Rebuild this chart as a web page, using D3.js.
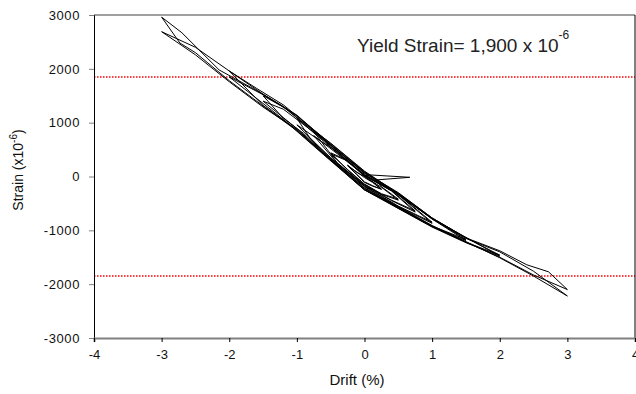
<!DOCTYPE html>
<html>
<head>
<meta charset="utf-8">
<script src="https://cdn.jsdelivr.net/npm/d3@7"></script>
<style>
  body { margin: 0; background: #fff; }
  text { font-family: Arial, "Liberation Sans", sans-serif; fill: #111; }
</style>
</head>
<body>
<div id="chart"></div>
<script>
// axis ticks
const xTicks = [-4, -3, -2, -1, 0, 1, 2, 3, 4];
const yTicks = [-3000, -2000, -1000, 0, 1000, 2000, 3000];

// yield strain lines (drawn level)
const yieldLevels = [1850, -1850];

// loading history, [drift %, strain]
const stage025 = [[0,0],[0.12,-100],[0.25,-230],[0.12,-180],[0,-110],[-0.12,40],[-0.25,200],[-0.12,90],[0,-20],
  [0.12,-110],[0.25,-240],[0.12,-170],[0,-100],[-0.25,210],[-0.12,80],[0,0]];
const spur = [[0.07,30],[0.67,-15],[0.16,-65]];
const stage050 = [[0.25,-190],[0.5,-420],[0.25,-320],[0,-140],[-0.25,130],[-0.5,420],[-0.25,290],[0,0],
  [0.25,-200],[0.5,-440],[0.25,-330],[0,-150],[-0.25,120],[-0.5,440],[-0.25,300],[0,10]];
const stage075 = [[0.4,-260],[0.75,-640],[0.4,-440],[0,-160],[-0.4,250],[-0.76,850],[-0.5,560],[-0.2,230],[0,20],
  [0.4,-270],[0.75,-660],[0.4,-450],[0,-170],[-0.4,240],[-0.75,760],[-0.4,420],[0,20]];
const stage100 = [[0.5,-330],[1,-850],[0.5,-550],[0,-180],[-0.5,350],[-0.8,700],[-1,1080],[-0.6,650],[-0.3,330],[0,40],
  [0.5,-340],[1,-870],[0.5,-560],[0,-190],[-0.5,340],[-1,960],[-0.7,700],[-0.4,460],[0,30]];
const stage150 = [[0.5,-320],[1,-780],[1.5,-1170],[1,-920],[0.5,-570],[0,-210],[-0.5,330],[-0.9,800],[-1.2,1080],[-1.5,1500],[-1.2,1290],[-0.8,890],[-0.5,590],[0,70],
  [0.5,-330],[1,-790],[1.5,-1190],[1,-930],[0.5,-580],[0,-220],[-0.5,320],[-1,890],[-1.5,1400],[-1.2,1250],[-0.8,870],[-0.5,580],[0,60]];
const stage200 = [[0.5,-310],[1,-770],[1.5,-1140],[2,-1460],[1.5,-1220],[1,-930],[0.5,-590],[0,-240],[-0.5,310],[-1,870],[-1.5,1320],[-2,1960],[-1.6,1640],[-1.2,1330],[-0.8,920],[-0.5,610],[0,90],
  [1,-780],[2,-1480],[1.5,-1230],[1,-940],[0,-250],[-0.6,400],[-1.2,1060],[-2,1850],[-1.5,1520],[-1,1130],[-0.5,580],[0,80]];
const stage300 = [[0.5,-300],[1,-770],[1.5,-1140],[2,-1380],[2.4,-1640],[2.72,-1770],[3,-2100],[2.5,-1830],[2,-1500],[1.5,-1220],[1,-920],[0.5,-570],[0,-250],
  [-0.5,300],[-1,850],[-1.5,1310],[-2,1780],[-2.5,2300],[-2.73,2480],[-3,2960],[-2.7,2670],[-2.15,1980],[-1.6,1600],[-1.2,1300],[-0.8,900],[-0.5,620],[0,100],
  [0.5,-320],[1,-790],[1.5,-1150],[2,-1400],[2.5,-1760],[3,-2220],[2.5,-1850],[2,-1510],[1.5,-1210],[1,-910],[0.5,-560],[0,-240],
  [-0.5,310],[-1,870],[-1.5,1290],[-2,1760],[-2.5,2260],[-3,2690],[-2.5,2400],[-2,1960],[-1.5,1530],[-1,1140],[-0.5,590],[0,60]];

const history = [...stage025, ...spur, ...stage050, ...stage075, ...stage100, ...stage150, ...stage200, ...stage300];

const width = 636, height = 394;
const margin = {top: 15, right: 1, bottom: 56, left: 94};

const svg = d3.select('#chart')
  .append('svg')
  .attr('width', width)
  .attr('height', height);

const x = d3.scaleLinear().domain([-4, 4]).range([margin.left, width - margin.right]);
const y = d3.scaleLinear().domain([-3000, 3000]).range([height - margin.bottom, margin.top]);

// yield lines
svg.selectAll('line.yield')
  .data(yieldLevels)
  .enter()
  .append('line')
  .attr('class', 'yield')
  .attr('x1', x(-4)).attr('x2', x(4))
  .attr('y1', d => y(d)).attr('y2', d => y(d))
  .attr('stroke', '#f00')
  .attr('stroke-width', 1.5)
  .attr('stroke-dasharray', '1.5,1.5');

// strain history
const line = d3.line().x(d => x(d[0])).y(d => y(d[1]));
svg.append('path')
  .datum(history)
  .attr('d', line)
  .attr('fill', 'none')
  .attr('stroke', '#000')
  .attr('stroke-width', 1)
  .attr('stroke-linejoin', 'round');

// frame: gray top and bottom, black sides
svg.append('line')
  .attr('x1', x(-4)).attr('x2', x(4)).attr('y1', y(3000)).attr('y2', y(3000))
  .attr('stroke', '#808080').attr('stroke-width', 1.5);
svg.append('line')
  .attr('x1', x(4)).attr('x2', x(4)).attr('y1', y(3000)).attr('y2', y(-3000))
  .attr('stroke', '#000').attr('stroke-width', 1);

// axes (plain hyphen for minus, as in the reference)
const fmt = d => String(d);
const yAxis = svg.append('g')
  .attr('transform', `translate(${margin.left},0)`)
  .call(d3.axisLeft(y).tickValues(yTicks).tickSize(5).tickPadding(9).tickFormat(fmt));
yAxis.select('.domain').attr('stroke', '#000').attr('stroke-width', 1);
yAxis.selectAll('.tick line').attr('stroke', '#808080');
yAxis.selectAll('.tick text').style('font-size', '13px').style('letter-spacing', '0.6px').style('fill', '#111');

const xAxis = svg.append('g')
  .attr('transform', `translate(0,${height - margin.bottom})`)
  .call(d3.axisBottom(x).tickValues(xTicks).tickSize(4).tickPadding(8).tickFormat(fmt));
xAxis.select('.domain').attr('stroke', '#808080').attr('stroke-width', 2);
xAxis.selectAll('.tick line').attr('stroke', '#000');
xAxis.selectAll('.tick text').style('font-size', '13px').style('fill', '#111');

// axis titles
svg.append('text')
  .attr('x', 357)
  .attr('y', 385)
  .attr('text-anchor', 'middle')
  .style('font-size', '15px')
  .text('Drift (%)');

const yTitle = svg.append('text')
  .attr('transform', 'translate(23,170) rotate(-90)')
  .attr('text-anchor', 'middle')
  .style('font-size', '14px');
yTitle.append('tspan').text('Strain (x10');
yTitle.append('tspan').attr('dy', -6).style('font-size', '10px').text('-6');
yTitle.append('tspan').attr('dy', 6).text(')');

// yield strain note
const note = svg.append('text')
  .attr('x', 357)
  .attr('y', 52)
  .style('font-size', '19px')
  .style('fill', '#222');
note.append('tspan').text('Yield Strain= 1,900 x 10');
note.append('tspan').attr('dy', -13).style('font-size', '12px').text('-6');
</script>
</body>
</html>
